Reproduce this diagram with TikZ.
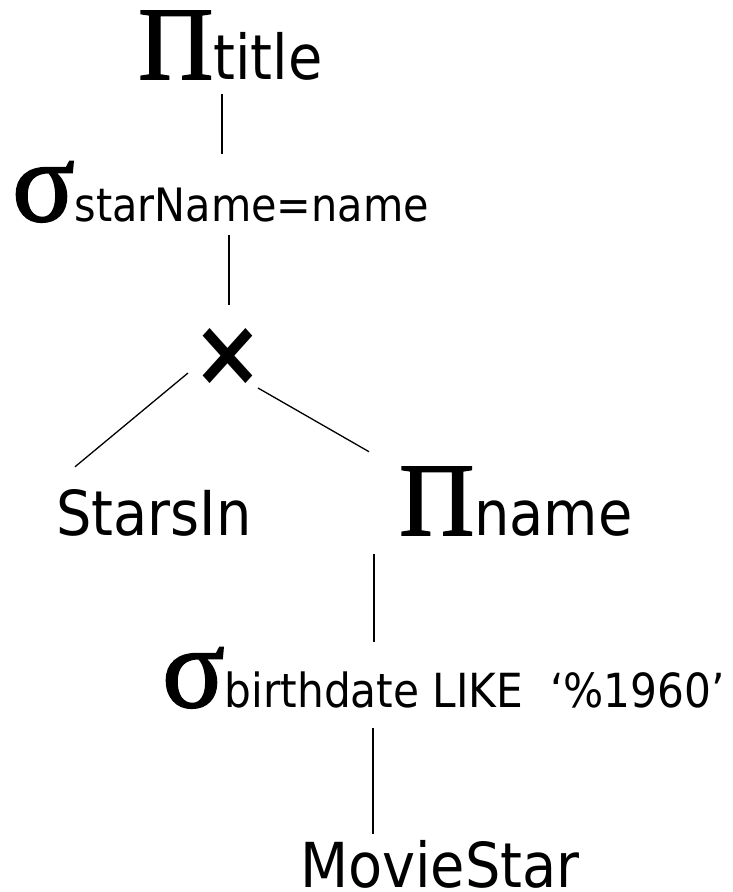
\documentclass[tikz,border=0pt]{standalone}
\usepackage{fontspec}
\setmainfont{DejaVu Sans Condensed}
\newfontfamily\greekop[FakeBold=1.6]{Liberation Serif}
\newcommand{\opsym}[1]{{\greekop\fontsize{104}{108}\selectfont #1}}
\newcommand{\selsym}[1]{{\greekop\fontsize{116}{120}\selectfont #1}}
\usetikzlibrary{positioning}

\begin{document}
\begin{tikzpicture}[x=1pt, y=-1pt,
    lbl/.style={inner sep=0pt, anchor=base west, font=\fontsize{62}{66}\selectfont},
    cond/.style={font=\fontsize{46}{50}\selectfont},
    edge/.style={draw=black, line width=1.3pt}
  ]
  \useasboundingbox (0,0) rectangle (733,892);

  % operators and relations
  \node[lbl] (pt) at (138,79) {\opsym{Π}title};
  \node[lbl, cond] (ss) at (12,221) {\selsym{σ}starName=name};
  \node[inner sep=0pt, font=\bfseries\fontsize{94}{94}\selectfont] (cross) at (228,357) {×};
  \node[lbl] (si) at (56,535) {StarsIn};
  \node[lbl] (pn) at (399,535) {\opsym{Π}name};
  \node[lbl, font=\fontsize{47}{52}\selectfont] (sb) at (162,707) {\selsym{σ}birthdate LIKE\ \ ‘\%1960’};
  \node[lbl] (ms) at (300,887) {MovieStar};

  % tree edges
  \draw[edge, shorten <=14pt, shorten >=7pt] (pt.south -| 222,0) -- (ss.north -| 222,0);
  \draw[edge, shorten <=13pt, shorten >=52pt] (ss.south -| 229,0) -- (cross.center -| 229,0);
  \draw[edge] ([shift={(-40,16)}]cross.center) -- ([shift={(19,-22)}]si.north west);
  \draw[edge] ([shift={(30,31)}]cross.center) -- ([shift={(-30,-15)}]pn.north west);
  \draw[edge, shorten <=18pt, shorten >=5pt] (pn.south -| 374,0) -- (sb.north -| 374,0);
  \draw[edge, shorten <=20pt, shorten >=6pt] (sb.south -| 373,0) -- (ms.north -| 373,0);
\end{tikzpicture}
\end{document}
